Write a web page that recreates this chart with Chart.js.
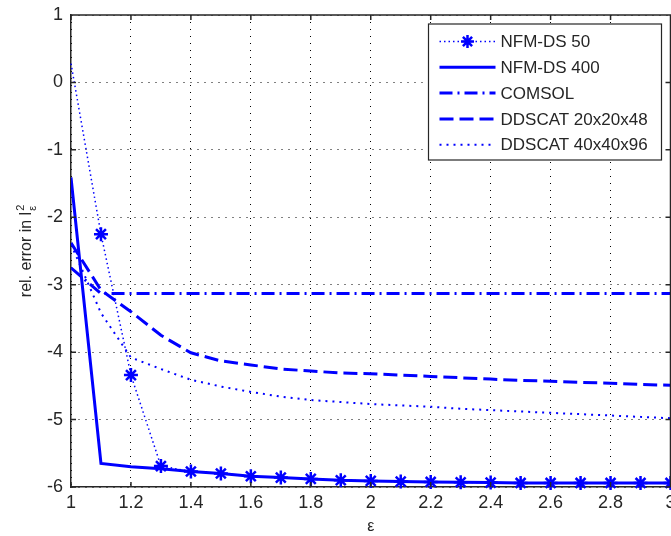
<!DOCTYPE html>
<html>
<head>
<meta charset="utf-8">
<script src="https://cdn.jsdelivr.net/npm/chart.js@4.4.1/dist/chart.umd.min.js"></script>
<style>
  html, body { margin: 0; padding: 0; background: #fff; overflow: hidden; }
  #wrap { position: absolute; left: 0; top: 0; width: 680px; height: 536px; }
</style>
</head>
<body>
<div id="wrap"><canvas id="errChart"></canvas></div>
<script>
// permittivity samples and log10 relative errors per solver
const epsValues = [1.0, 1.1, 1.2, 1.3, 1.4, 1.5, 1.6, 1.7, 1.8, 1.9, 2.0,
                   2.1, 2.2, 2.3, 2.4, 2.5, 2.6, 2.7, 2.8, 2.9, 3.0];
const nfmds50  = [0.28, -2.25, -4.34, -5.69, -5.77, -5.80, -5.84, -5.86, -5.88, -5.90, -5.91,
                  -5.92, -5.925, -5.93, -5.935, -5.94, -5.94, -5.94, -5.94, -5.94, -5.94];
const nfmds400 = [-1.41, -5.65, -5.70, -5.73, -5.77, -5.80, -5.84, -5.86, -5.88, -5.90, -5.91,
                  -5.92, -5.925, -5.93, -5.935, -5.94, -5.94, -5.94, -5.94, -5.94, -5.94];
const comsol   = [-2.75, -3.13, -3.13, -3.13, -3.13, -3.13, -3.13, -3.13, -3.13, -3.13, -3.13,
                  -3.13, -3.13, -3.13, -3.13, -3.13, -3.13, -3.13, -3.13, -3.13, -3.13];
const ddscat20 = [-2.38, -3.08, -3.40, -3.75, -4.01, -4.13, -4.19, -4.25, -4.28, -4.31, -4.32,
                  -4.34, -4.36, -4.38, -4.40, -4.42, -4.43, -4.45, -4.46, -4.48, -4.49];
const ddscat40 = [-2.40, -3.42, -4.08, -4.25, -4.41, -4.51, -4.59, -4.66, -4.71, -4.74, -4.77,
                  -4.79, -4.81, -4.84, -4.86, -4.88, -4.90, -4.92, -4.94, -4.96, -4.98];
const seriesNames = ['NFM-DS 50', 'NFM-DS 400', 'COMSOL', 'DDSCAT 20x20x48', 'DDSCAT 40x40x96'];

const FONT = "'Liberation Sans', Arial, sans-serif";
const BLUE = '#0000ff';
const AXIS = '#262626';

const toXY = ys => ys.map((v, i) => ({ x: epsValues[i], y: v }));

function drawStar(ctx, cx, cy, r) {
  ctx.beginPath();
  for (let k = 0; k < 4; k++) {
    const a = k * Math.PI / 4;
    ctx.moveTo(cx - r * Math.cos(a), cy - r * Math.sin(a));
    ctx.lineTo(cx + r * Math.cos(a), cy + r * Math.sin(a));
  }
  ctx.stroke();
}

// box frame with inward tick marks
const axisFrame = {
  id: 'axisFrame',
  afterDatasetsDraw(chart) {
    const { ctx, chartArea: a, scales: { x, y } } = chart;
    ctx.save();
    ctx.strokeStyle = AXIS;
    ctx.lineWidth = 1.5;
    ctx.beginPath();
    ctx.moveTo(a.left, a.top); ctx.lineTo(a.right, a.top); ctx.lineTo(a.right, a.bottom);
    x.ticks.forEach(t => {
      const px = x.getPixelForValue(t.value);
      ctx.moveTo(px, a.bottom); ctx.lineTo(px, a.bottom - 5);
      ctx.moveTo(px, a.top); ctx.lineTo(px, a.top + 5);
    });
    y.ticks.forEach(t => {
      const py = y.getPixelForValue(t.value);
      ctx.moveTo(a.left, py); ctx.lineTo(a.left + 5, py);
      ctx.moveTo(a.right, py); ctx.lineTo(a.right - 5, py);
    });
    ctx.stroke();
    ctx.restore();
  }
};

// axis titles (with super/subscript on the y title)
const axisTitles = {
  id: 'axisTitles',
  afterDraw(chart) {
    const { ctx, chartArea: a } = chart;
    ctx.save();
    ctx.fillStyle = AXIS;
    ctx.font = `16px ${FONT}`;
    ctx.textAlign = 'center';
    ctx.textBaseline = 'middle';
    ctx.fillText('\u03b5', (a.left + a.right) / 2, 527);

    ctx.translate(31, (a.top + a.bottom) / 2);
    ctx.rotate(-Math.PI / 2);
    ctx.textAlign = 'left';
    ctx.textBaseline = 'alphabetic';
    const main = 'rel. error in l';
    const w = ctx.measureText(main).width;
    const total = w + 7;
    const x0 = -total / 2;
    ctx.fillText(main, x0, 0);
    ctx.font = `11px ${FONT}`;
    ctx.fillText('2', x0 + w + 1, -7);
    ctx.fillText('\u03b5', x0 + w + 1, 5);
    ctx.restore();
  }
};

// legend box in the upper right of the plot
const boxLegend = {
  id: 'boxLegend',
  afterDraw(chart) {
    const { ctx, chartArea: a } = chart;
    const left = a.right - 242, top = a.top + 9, width = 233, height = 136;
    ctx.save();
    ctx.fillStyle = '#fff';
    ctx.fillRect(left, top, width, height);
    ctx.strokeStyle = AXIS;
    ctx.lineWidth = 1.2;
    ctx.strokeRect(left, top, width, height);
    chart.data.datasets.forEach((ds, i) => {
      const cy = top + 17.5 + i * 25.8;
      const x1 = left + 11, x2 = left + 67;
      ctx.strokeStyle = ds.borderColor;
      ctx.lineWidth = ds.borderWidth;
      ctx.setLineDash(ds.borderDash || []);
      ctx.beginPath();
      ctx.moveTo(x1, cy); ctx.lineTo(x2, cy);
      ctx.stroke();
      ctx.setLineDash([]);
      if (ds.pointStyle === 'star') {
        ctx.lineWidth = 2.5;
        drawStar(ctx, (x1 + x2) / 2, cy, 6.5);
      }
      ctx.fillStyle = AXIS;
      ctx.font = `17px ${FONT}`;
      ctx.textAlign = 'left';
      ctx.textBaseline = 'middle';
      ctx.fillText(ds.label, left + 72, cy + 1);
    });
    ctx.restore();
  }
};

new Chart(document.getElementById('errChart'), {
  type: 'line',
  data: {
    datasets: [
      { label: seriesNames[0], data: toXY(nfmds50), borderColor: BLUE, borderWidth: 1.5,
        borderDash: [1.5, 3], pointStyle: 'star', pointBorderColor: BLUE, pointBorderWidth: 2.5,
        pointRadius: c => (c.dataIndex === 0 ? 0 : 7), clip: false },
      { label: seriesNames[1], data: toXY(nfmds400), borderColor: BLUE, borderWidth: 3, pointRadius: 0 },
      { label: seriesNames[2], data: toXY(comsol), borderColor: BLUE, borderWidth: 3,
        borderDash: [13, 5, 2, 5], pointRadius: 0 },
      { label: seriesNames[3], data: toXY(ddscat20), borderColor: BLUE, borderWidth: 3,
        borderDash: [14, 6], pointRadius: 0 },
      { label: seriesNames[4], data: toXY(ddscat40), borderColor: BLUE, borderWidth: 2,
        borderDash: [2, 5], pointRadius: 0 }
    ]
  },
  options: {
    responsive: true,
    maintainAspectRatio: false,
    animation: false,
    events: [],
    layout: { padding: { top: 15, right: 9, left: 0, bottom: 0 } },
    plugins: { legend: { display: false }, tooltip: { enabled: false } },
    scales: {
      x: {
        type: 'linear', min: 1, max: 3,
        ticks: { stepSize: 0.2, autoSkip: false, maxRotation: 0, padding: 5,
                 color: AXIS, font: { family: FONT, size: 18 },
                 callback: v => +v.toFixed(1) },
        grid: { color: '#000', lineWidth: 1, drawTicks: false },
        border: { display: true, color: AXIS, width: 1.5, dash: [1, 6] },
        afterFit: s => { s.height = 49; s.paddingLeft = 0; s.paddingRight = 0; }
      },
      y: {
        min: -6, max: 1,
        ticks: { stepSize: 1, padding: 8, color: AXIS, font: { family: FONT, size: 18 } },
        grid: { color: '#000', lineWidth: 1, drawTicks: false },
        border: { display: true, color: AXIS, width: 1.5, dash: [1, 6] },
        afterFit: s => { s.width = 71; s.paddingTop = 0; s.paddingBottom = 0; }
      }
    }
  },
  plugins: [axisFrame, axisTitles, boxLegend]
});
</script>
</body>
</html>
